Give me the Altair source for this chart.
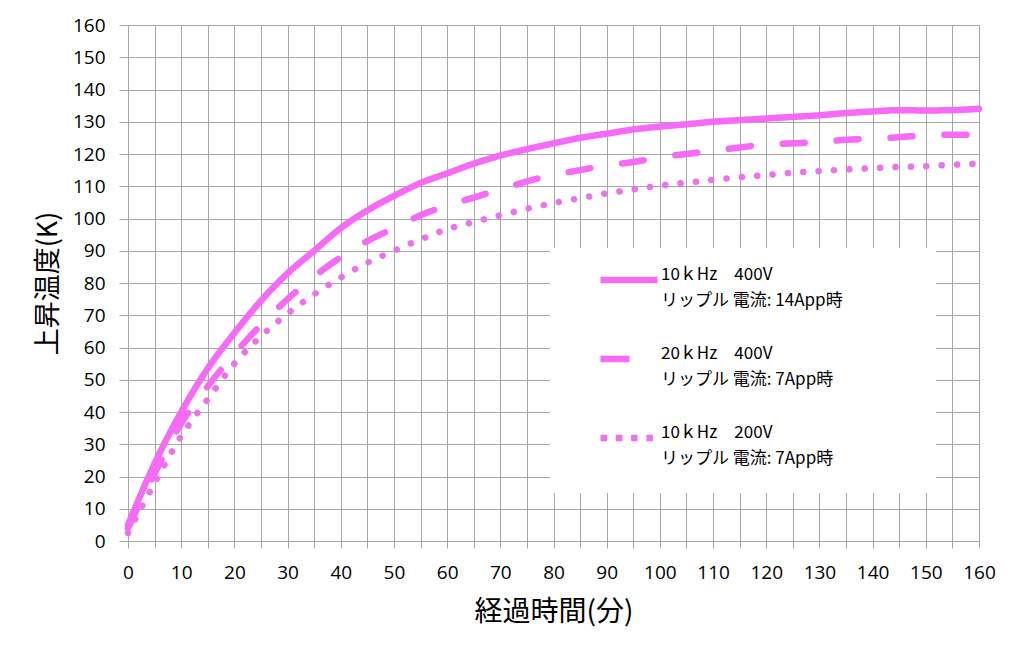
import altair as alt
import pandas as pd

# ---- data ----
minutes = list(range(0, 161, 5))
temp_10k_400v = [5, 24, 40, 53.5, 64.5, 74.5, 83, 90, 97, 102.5,
                 107, 111, 114, 117, 119.5, 121.5, 123.3, 125, 126.3, 127.6,
                 128.5, 129.2, 130, 130.5, 131, 131.5, 132, 132.7, 133.2, 133.6,
                 133.5, 133.6, 134]
temp_20k_400v = [4, 21, 36.5, 48, 58, 67, 75, 82, 88, 93,
                 97, 101, 104, 106.5, 109, 111.5, 113.5, 115, 116.5, 117.5,
                 119, 120, 121, 122, 123, 123.3, 123.7, 124.4, 124.8, 125.2,
                 125.8, 126, 126]
temp_10k_200v = [2.5, 18, 32.5, 44, 55, 63.5, 70.5, 76.5, 81.7, 86.3,
                 90, 93.5, 96.7, 98.9, 101, 103, 104.8, 106.3, 107.8, 109,
                 110.2, 111.1, 112, 112.8, 113.5, 114.2, 114.7, 115.2, 115.6, 116,
                 116.2, 116.7, 117]

series_names = [
    "10ｋHz　400V\nリップル 電流: 14App時",
    "20ｋHz　400V\nリップル 電流: 7App時",
    "10ｋHz　200V\nリップル 電流: 7App時",
]
x_ticks = list(range(0, 161, 5))
y_ticks = list(range(0, 161, 10))

rows = []
for name, vals in zip(series_names, [temp_10k_400v, temp_20k_400v, temp_10k_200v]):
    for m, v in zip(minutes, vals):
        rows.append({"経過時間": m, "上昇温度": v, "系列": name})
df = pd.DataFrame(rows)

colors = ["#F56BF5", "#F56BF5", "#EC72EC"]
legend_dashes = [[1, 0], [29, 28], [6.5, 8.8]]   # butt-capped legend symbols
plot_dashes = [[1, 0], [22, 32], [0.1, 15.3]]    # round-capped plot lines

grid_c = "#A6A6A6"

base = alt.Chart(df).encode(
    x=alt.X("経過時間:Q",
            scale=alt.Scale(domain=[0, 160], nice=False),
            axis=alt.Axis(values=x_ticks,
                          labelExpr="datum.value % 10 === 0 ? datum.label : ''",
                          grid=True, gridColor=grid_c, gridWidth=1,
                          tickColor=grid_c, tickSize=7, tickWidth=1,
                          domainColor=grid_c, domainWidth=1,
                          labelFont="Open Sans", labelFontSize=19, labelColor="black",
                          labelPadding=15, labelFlush=False,
                          title="経過時間(分)", titleFont="Noto Sans CJK JP",
                          titleFontSize=28, titleFontWeight="normal",
                          titleColor="black", titlePadding=16)),
    y=alt.Y("上昇温度:Q",
            scale=alt.Scale(domain=[0, 160], nice=False),
            axis=alt.Axis(values=y_ticks,
                          grid=True, gridColor=grid_c, gridWidth=1,
                          tickColor=grid_c, tickSize=9, tickWidth=1,
                          domainColor=grid_c, domainWidth=1,
                          labelFont="Open Sans", labelFontSize=19, labelColor="black",
                          labelPadding=14, labelFlush=False,
                          title="上昇温度(K)", titleFont="Noto Sans CJK JP",
                          titleFontSize=27, titleFontWeight="normal",
                          titleColor="black", titlePadding=10)),
)

line_kw = dict(strokeWidth=6.5, strokeCap="round", strokeJoin="round",
               interpolate="monotone")

dotted = base.transform_filter(
    alt.FieldEqualPredicate(field="系列", equal=series_names[2])
).mark_line(color=colors[2], strokeDash=plot_dashes[2], **line_kw)

dashed = base.transform_filter(
    alt.FieldEqualPredicate(field="系列", equal=series_names[1])
).mark_line(color=colors[1], strokeDash=plot_dashes[1], **line_kw)

# trailing blanks (kept by a zero-width char) widen the white legend box;
# the last entry gets an extra blank line so the box reaches down like the original
pad = "　　　　　  \u200b"
label_expr = ("datum.index === 2 ? split(datum.label + '" + pad + "\\n', '\\n')"
              " : split(datum.label + '" + pad + "', '\\n')")

solid = base.transform_filter(
    alt.FieldEqualPredicate(field="系列", equal=series_names[0])
).mark_line(**line_kw).encode(
    color=alt.Color("系列:N",
                    scale=alt.Scale(domain=series_names, range=colors),
                    sort=series_names,
                    legend=alt.Legend(
                        title=" ", titleOrient="left", titlePadding=47,
                        orient="none", legendX=422, legendY=223,
                        fillColor="white", padding=0,
                        symbolType="stroke", symbolSize=3249, symbolStrokeWidth=6.5,
                        labelExpr=label_expr,
                        labelFont="Noto Sans CJK JP", labelFontSize=17,
                        labelColor="black", labelLimit=600, labelOffset=0,
                        labelBaseline="alphabetic", rowPadding=18)),
    strokeDash=alt.StrokeDash("系列:N",
                              scale=alt.Scale(domain=series_names, range=legend_dashes),
                              sort=series_names),
)

chart = alt.layer(dotted, dashed, solid).properties(
    width=851, height=516,
    autosize=alt.AutoSizeParams(type="none"),
    padding={"left": 120, "top": 17, "right": 30, "bottom": 100},
).configure_view(strokeWidth=0).configure(
    background="white",
    style={"guide-label": {"lineHeight": 26}},
)

chart.save("out.html", embed_options={"renderer": "svg", "actions": False})
